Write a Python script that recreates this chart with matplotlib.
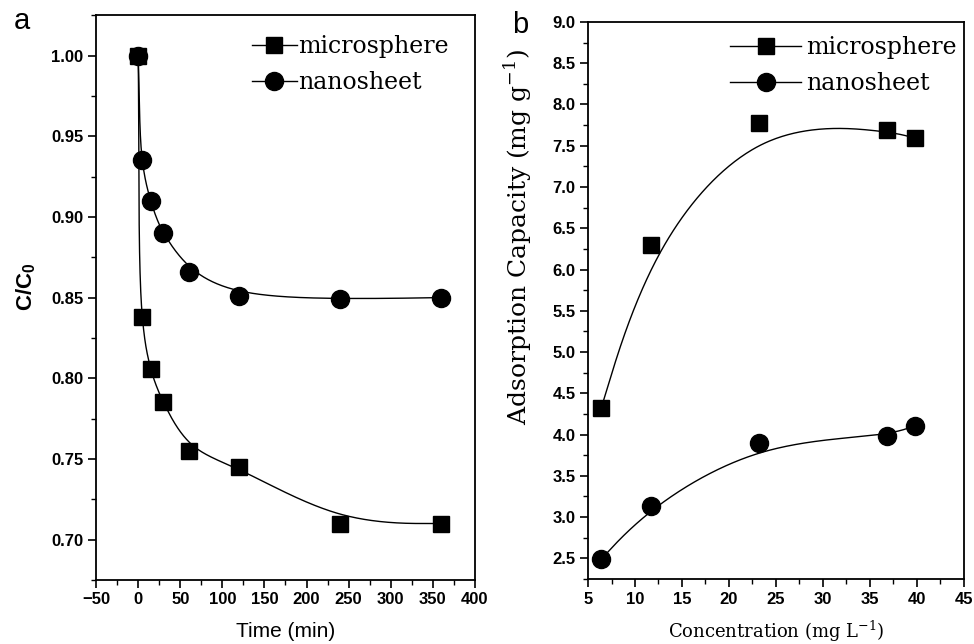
import numpy as np
import matplotlib.pyplot as plt
from matplotlib.ticker import MultipleLocator

# panel a: kinetics
time_min = [0, 5, 15, 30, 60, 120, 240, 360]
micro_c = [1.000, 0.838, 0.806, 0.785, 0.755, 0.745, 0.710, 0.710]
nano_c = [1.000, 0.935, 0.910, 0.890, 0.866, 0.851, 0.849, 0.850]

# panel b: capacity vs concentration
conc = [6.4, 11.7, 23.2, 36.8, 39.8]
micro_q = [4.32, 6.30, 7.78, 7.69, 7.59]
nano_q = [2.49, 3.14, 3.90, 3.98, 4.11]


def catmull_line(x, y, sx, sy, nseg, n=60):
    # centripetal catmull-rom through the first nseg segments (screen-ish units)
    P = np.c_[np.asarray(x, float) * sx, np.asarray(y, float) * sy]
    P = np.vstack([2 * P[0] - P[1], P, 2 * P[-1] - P[-2]])
    out = []
    for i in range(nseg):
        p0, p1, p2, p3 = P[i:i + 4]
        t0 = 0.0
        t1 = t0 + np.linalg.norm(p1 - p0) ** 0.5
        t2 = t1 + np.linalg.norm(p2 - p1) ** 0.5
        t3 = t2 + np.linalg.norm(p3 - p2) ** 0.5
        t = np.linspace(t1, t2, n)[:, None]
        a1 = (t1 - t) / (t1 - t0) * p0 + (t - t0) / (t1 - t0) * p1
        a2 = (t2 - t) / (t2 - t1) * p1 + (t - t1) / (t2 - t1) * p2
        a3 = (t3 - t) / (t3 - t2) * p2 + (t - t2) / (t3 - t2) * p3
        b1 = (t2 - t) / (t2 - t0) * a1 + (t - t0) / (t2 - t0) * a2
        b2 = (t3 - t) / (t3 - t1) * a2 + (t - t1) / (t3 - t1) * a3
        out.append((t2 - t) / (t2 - t1) * b1 + (t - t1) / (t2 - t1) * b2)
    c = np.vstack(out)
    return c[:, 0] / sx, c[:, 1] / sy


def bspline_line(x, y, n=80):
    # origin style b-spline, data points used as control points
    px = np.r_[[x[0]] * 2, x, [x[-1]] * 2].astype(float)
    py = np.r_[[y[0]] * 2, y, [y[-1]] * 2].astype(float)
    t = np.linspace(0, 1, n)
    b0 = (1 - t)**3 / 6
    b1 = (3 * t**3 - 6 * t**2 + 4) / 6
    b2 = (-3 * t**3 + 3 * t**2 + 3 * t + 1) / 6
    b3 = t**3 / 6
    xs, ys = [], []
    for i in range(len(px) - 3):
        xs.append(b0 * px[i] + b1 * px[i + 1] + b2 * px[i + 2] + b3 * px[i + 3])
        ys.append(b0 * py[i] + b1 * py[i + 1] + b2 * py[i + 2] + b3 * py[i + 3])
    return np.concatenate(xs), np.concatenate(ys)


def kinetic_line(x, y, k=3):
    # steep start goes through the points, the slow tail is smoothed
    xa, ya = catmull_line(x, y, 379 / 450, 565 / 0.35, k)
    xb, yb = bspline_line(x[k:], y[k:])
    return np.r_[xa, xb], np.r_[ya, yb]


plt.rcParams['font.family'] = 'Liberation Sans'
fig = plt.figure(figsize=(9.74, 6.44), dpi=100)
ax1 = fig.add_axes([0.0986, 0.0994, 0.389, 0.877])
ax2 = fig.add_axes([0.6037, 0.1009, 0.386, 0.865])

serif = 'DejaVu Serif'
leg_font = {'family': serif, 'size': 17}
ms_sq, ms_ci = 11, 13

# ---- panel a
for yy in (micro_c, nano_c):
    xs, ys = kinetic_line(time_min, yy)
    ax1.plot(xs, ys, color='black', lw=1)
ax1.plot(time_min, micro_c, 's', color='black', ms=ms_sq, ls='none')
ax1.plot(time_min, nano_c, 'o', color='black', ms=ms_ci, ls='none')
h1, = ax1.plot([], [], 's-', color='black', ms=ms_sq, lw=1, label='microsphere')
h2, = ax1.plot([], [], 'o-', color='black', ms=ms_ci, lw=1, label='nanosheet')
ax1.legend(handles=[h1, h2], loc='upper right', bbox_to_anchor=(0.93, 0.965),
           frameon=False, prop=leg_font, handlelength=1.9, handletextpad=0.05,
           borderaxespad=0, borderpad=0, labelspacing=0.55)

ax1.set_xlim(-50, 400)
ax1.set_ylim(0.675, 1.025)
ax1.xaxis.set_major_locator(MultipleLocator(50))
ax1.xaxis.set_minor_locator(MultipleLocator(25))
ax1.yaxis.set_major_locator(MultipleLocator(0.05))
ax1.yaxis.set_minor_locator(MultipleLocator(0.025))
ax1.yaxis.set_major_formatter(plt.FormatStrFormatter('%.2f'))
ax1.set_xlabel('Time (min)', fontsize=15)
ax1.xaxis.set_label_coords(0.5, -0.074)
ax1.set_ylabel('C/C$_{\\mathregular{0}}$', fontsize=16, fontweight='bold')
ax1.yaxis.set_label_coords(-0.152, 0.52)

# ---- panel b
for yy in (micro_q, nano_q):
    xs, ys = bspline_line(conc, yy)
    ax2.plot(xs, ys, color='black', lw=1)
ax2.plot(conc, micro_q, 's', color='black', ms=ms_sq, ls='none')
ax2.plot(conc, nano_q, 'o', color='black', ms=ms_ci, ls='none')
h3, = ax2.plot([], [], 's-', color='black', ms=ms_sq, lw=1, label='microsphere')
h4, = ax2.plot([], [], 'o-', color='black', ms=ms_ci, lw=1, label='nanosheet')
ax2.legend(handles=[h3, h4], loc='upper right', bbox_to_anchor=(0.98, 0.975),
           frameon=False, prop=leg_font, handlelength=3.0, handletextpad=0.2,
           borderaxespad=0, borderpad=0, labelspacing=0.55)

ax2.set_xlim(5, 45)
ax2.set_ylim(2.25, 9.0)
ax2.xaxis.set_major_locator(MultipleLocator(5))
ax2.xaxis.set_minor_locator(MultipleLocator(2.5))
ax2.yaxis.set_major_locator(MultipleLocator(0.5))
ax2.yaxis.set_minor_locator(MultipleLocator(0.25))
ax2.yaxis.set_major_formatter(plt.FormatStrFormatter('%.1f'))
ax2.set_xlabel('Concentration (mg L$^{\\mathregular{-1}}$)', fontsize=13, family=serif)
ax2.xaxis.set_label_coords(0.5, -0.071)
ax2.set_ylabel('Adsorption Capacity (mg g$^{\\mathregular{-1}}$)', fontsize=18, family=serif)
ax2.yaxis.set_label_coords(-0.141, 0.614)

fig.text(22 / 974, 1 - 21 / 644, 'a', fontsize=21, ha='center', va='center')
fig.text(520 / 974, 1 - 25 / 644, 'b', fontsize=21, ha='center', va='center')

for ax in (ax1, ax2):
    ax.tick_params(which='both', direction='out', top=False, right=False)
    ax.tick_params(which='major', length=6, width=1.2, labelsize=12, pad=3)
    ax.tick_params(which='minor', length=3.5, width=1)
    for lab in ax.get_xticklabels() + ax.get_yticklabels():
        lab.set_fontweight('bold')
    for s in ax.spines.values():
        s.set_linewidth(1.3)

fig.savefig('out.png', dpi=100)
